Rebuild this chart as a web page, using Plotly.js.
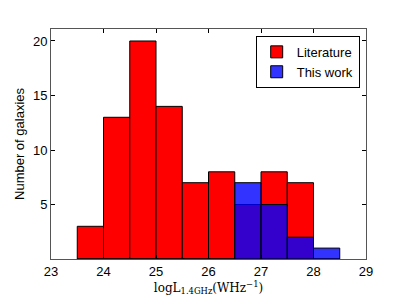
<!DOCTYPE html>
<html><head><meta charset="utf-8">
<script src="https://cdn.plot.ly/plotly-3.0.1.min.js"></script>
<style>body{margin:0;padding:0;background:#fff}#chart{width:407px;height:305px}</style>
</head><body><div id="chart"></div>
<script>
const binCenters = [23.75, 24.25, 24.75, 25.25, 25.75, 26.25, 26.75, 27.25, 27.75, 28.25];
const literature = [3, 13, 20, 14, 7, 8, 5, 8, 7, 0];
const thisWork = [0, 0, 0, 0, 0, 0, 7, 5, 2, 1];
const xTicks = [23, 24, 25, 26, 27, 28, 29];
const yTicks = [5, 10, 15, 20];

const traces = [
  {type:'bar', x: binCenters, y: literature, width: 0.5, name: 'Literature',
   marker:{color:'#ff0000', line:{color:'#000', width:1}}},
  {type:'bar', x: binCenters, y: thisWork, width: 0.5, name: 'This work',
   marker:{color:'rgba(0,0,255,0.8)', line:{color:'#000', width:1}}}
];
const layout = {
  width:407, height:305,
  margin:{l:51, r:41, t:29, b:46},
  paper_bgcolor:'#fff', plot_bgcolor:'#fff',
  barmode:'overlay', bargap:0,
  font:{family:'Liberation Sans, Arial, sans-serif', size:13, color:'#000'},
  xaxis:{range:[23,29], tickvals:xTicks, ticktext:xTicks.map(String),
    ticks:'inside', ticklen:4, tickcolor:'#000', showline:true, linecolor:'#555', linewidth:1,
    mirror:'allticks', showgrid:false, zeroline:false,
    title:{text:'logL<sub>1.4GHz</sub>(WHz<sup>−1</sup>)', font:{family:'DejaVu Serif, Liberation Serif, serif', size:12}, standoff:5}},
  yaxis:{range:[0,21.1], tickvals:yTicks, ticktext:yTicks.map(String),
    ticks:'inside', ticklen:4, tickcolor:'#000', showline:true, linecolor:'#555', linewidth:1,
    mirror:'allticks', showgrid:false, zeroline:false,
    title:{text:'Number of galaxies', font:{size:13}, standoff:5}},
  legend:{x:0.98, y:0.97, xanchor:'right', yanchor:'top', bgcolor:'#fff',
    bordercolor:'#000', borderwidth:1, font:{size:13}, traceorder:'normal', itemwidth:30},
  showlegend:true
};
Plotly.newPlot('chart', traces, layout, {displayModeBar:false, staticPlot:true});
</script></body></html>
